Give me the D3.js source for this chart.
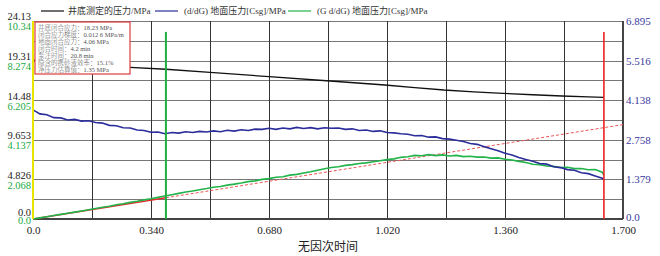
<!DOCTYPE html>
<html>
<head>
<meta charset="utf-8">
<script src="https://cdn.jsdelivr.net/npm/d3@7"></script>
<style>
  body { margin: 0; background: #fff; }
  text { font-family: "Liberation Serif", "Noto Sans CJK SC", serif; }
</style>
</head>
<body>
<svg id="chart"></svg>
<script>
// data
const timeTicks = [0, 0.34, 0.68, 1.02, 1.36, 1.7];
const timeLabels = ["0.0", "0.340", "0.680", "1.020", "1.360", "1.700"];
const timeGrid = [0, 0.17, 0.34, 0.51, 0.68, 0.85, 1.02, 1.19, 1.36, 1.53, 1.7];

const leftTicks = [0, 4.826, 9.653, 14.48, 19.31, 24.13];
const leftLabels = ["0.0", "4.826", "9.653", "14.48", "19.31", "24.13"];
const greenTicks = [0, 2.068, 4.137, 6.205, 8.274, 10.34];
const greenLabels = ["0.0", "2.068", "4.137", "6.205", "8.274", "10.34"];
const rightTicks = [0, 1.379, 2.758, 4.138, 5.516, 6.895];
const rightLabels = ["0.0", "1.379", "2.758", "4.138", "5.516", "6.895"];

const legendNames = ["井底测定的压力/MPa", "(d/dG) 地面压力[Csg]/MPa", "(G d/dG) 地面压力[Csg]/MPa"];

const infoLines = [
    "井底闭合应力：18.23 MPa",
    "闭合应力梯度：0.012 6 MPa/m",
    "地面闭合应力：4.06 MPa",
    "闭合时间：4.2 min",
    "泵注时间：20.8 min",
    "隐含的携砂液效率：15.1%",
    "净压力估算值：1.35 MPa"
];

// bottom-hole pressure (left black axis)
const bhTime = [0, 0.1, 0.2, 0.28, 0.383, 0.51, 0.68, 0.856, 1.014, 1.1, 1.184, 1.27, 1.354, 1.44, 1.524, 1.6, 1.645];
const bhPressure = [19.35, 19.05, 18.74, 18.49, 18.25, 17.87, 17.35, 16.82, 16.33, 16.02, 15.72, 15.50, 15.32, 15.14, 14.99, 14.88, 14.83];

// sampled time for derivative curves
const sampleTime = [0.00, 0.02, 0.04, 0.06, 0.08, 0.10, 0.12, 0.14, 0.16, 0.18,
    0.20, 0.22, 0.24, 0.26, 0.28, 0.30, 0.32, 0.34, 0.36, 0.38,
    0.40, 0.42, 0.44, 0.46, 0.48, 0.50, 0.52, 0.54, 0.56, 0.58,
    0.60, 0.62, 0.64, 0.66, 0.68, 0.70, 0.72, 0.74, 0.76, 0.78,
    0.80, 0.82, 0.84, 0.86, 0.88, 0.90, 0.92, 0.94, 0.96, 0.98,
    1.00, 1.02, 1.04, 1.06, 1.08, 1.10, 1.12, 1.14, 1.16, 1.18,
    1.20, 1.22, 1.24, 1.26, 1.28, 1.30, 1.32, 1.34, 1.36, 1.38,
    1.40, 1.42, 1.44, 1.46, 1.48, 1.50, 1.52, 1.54, 1.56, 1.58,
    1.60, 1.62, 1.64, 1.645];

// (d/dG) surface pressure (right blue axis)
const dPressure = [3.80, 3.66, 3.63, 3.53, 3.52, 3.45, 3.47, 3.41, 3.42, 3.36,
    3.34, 3.26, 3.25, 3.18, 3.17, 3.10, 3.08, 3.02, 3.03, 2.97,
    3.01, 2.99, 3.04, 3.01, 3.05, 3.03, 3.07, 3.04, 3.09, 3.06,
    3.11, 3.08, 3.13, 3.12, 3.16, 3.12, 3.17, 3.14, 3.19, 3.15,
    3.18, 3.14, 3.18, 3.16, 3.17, 3.12, 3.14, 3.08, 3.10, 3.05,
    3.07, 3.01, 3.00, 2.97, 2.95, 2.90, 2.91, 2.85, 2.86, 2.80,
    2.78, 2.74, 2.70, 2.63, 2.60, 2.52, 2.45, 2.38, 2.29, 2.23,
    2.14, 2.07, 2.01, 1.93, 1.91, 1.82, 1.79, 1.72, 1.70, 1.61,
    1.58, 1.50, 1.42, 1.36];

// (G d/dG) surface pressure (left green axis)
const gdPressure = [0.00, 0.06, 0.12, 0.18, 0.24, 0.30, 0.36, 0.42, 0.48, 0.55,
    0.61, 0.67, 0.74, 0.80, 0.87, 0.93, 1.00, 1.06, 1.13, 1.20,
    1.27, 1.34, 1.41, 1.46, 1.53, 1.59, 1.66, 1.70, 1.77, 1.82,
    1.88, 1.95, 1.99, 2.07, 2.11, 2.18, 2.21, 2.29, 2.33, 2.40,
    2.47, 2.55, 2.62, 2.69, 2.73, 2.80, 2.84, 2.90, 2.93, 2.99,
    3.04, 3.10, 3.14, 3.22, 3.25, 3.32, 3.30, 3.36, 3.31, 3.35,
    3.29, 3.32, 3.26, 3.28, 3.23, 3.24, 3.18, 3.19, 3.12, 3.08,
    3.01, 2.95, 2.86, 2.84, 2.77, 2.75, 2.69, 2.70, 2.63, 2.64,
    2.57, 2.58, 2.44, 2.30];

// tangent line through origin (green axis units)
const tangentTime = [0, 0.383, 1.7];
const tangentValue = [0, 1.11, 4.93];

// closure / end-of-data markers
const closureTime = 0.383;
const endTime = 1.645;
const markerTopValue = 22.8;

//margins
const margin = { top: 21, right: 37, bottom: 37, left: 33 };
const width = 660 - margin.left - margin.right;
const height = 256 - margin.top - margin.bottom;

const svg = d3.select("#chart")
    .attr("width", 660)
    .attr("height", 256);

const g = svg.append("g")
    .attr("transform", `translate(${margin.left}, ${margin.top})`);

// scales
const xScale = d3.scaleLinear().domain([0, 1.7]).range([0, width]);
const yLeft = d3.scaleLinear().domain([0, 24.13]).range([height, 0]);
const yGreen = d3.scaleLinear().domain([0, 10.34]).range([height, 0]);
const yRight = d3.scaleLinear().domain([0, 6.895]).range([height, 0]);

// horizontal grid (major + halfway lines)
const hGrid = [];
leftTicks.forEach((v, i) => {
    hGrid.push(v);
    if (i < leftTicks.length - 1) hGrid.push((v + leftTicks[i + 1]) / 2);
});
g.append("g").selectAll("line")
    .data(hGrid)
    .enter().append("line")
    .attr("x1", 0).attr("x2", width)
    .attr("y1", d => Math.round(yLeft(d)) + 0.5).attr("y2", d => Math.round(yLeft(d)) + 0.5)
    .attr("stroke", "#777").attr("stroke-width", 1);

// vertical grid
g.append("g").selectAll("line")
    .data(timeGrid)
    .enter().append("line")
    .attr("x1", d => Math.round(xScale(d)) + 0.5).attr("x2", d => Math.round(xScale(d)) + 0.5)
    .attr("y1", 0).attr("y2", height)
    .attr("stroke", "#333").attr("stroke-width", 1);

// frame
g.append("line").attr("x1", width).attr("x2", width).attr("y1", 0).attr("y2", height)
    .attr("stroke", "#444").attr("stroke-width", 2);
g.append("line").attr("x1", 0).attr("x2", width).attr("y1", height).attr("y2", height)
    .attr("stroke", "#444").attr("stroke-width", 2);

// curves
const bhLine = d3.line()
    .x((d, i) => xScale(bhTime[i]))
    .y(d => yLeft(d));
const dLine = d3.line()
    .x((d, i) => xScale(sampleTime[i]))
    .y(d => yRight(d));
const gdLine = d3.line()
    .x((d, i) => xScale(sampleTime[i]))
    .y(d => yGreen(d));

// tangent: solid to closure, dashed after
g.append("path")
    .datum([0, 1])
    .attr("d", d3.line().x(i => xScale(tangentTime[i])).y(i => yGreen(tangentValue[i])))
    .attr("fill", "none").attr("stroke", "#e82a2a").attr("stroke-width", 1.5);
g.append("path")
    .datum([1, 2])
    .attr("d", d3.line().x(i => xScale(tangentTime[i])).y(i => yGreen(tangentValue[i])))
    .attr("fill", "none").attr("stroke", "#ee5555").attr("stroke-width", 1)
    .attr("stroke-dasharray", "3,2");

g.append("path").datum(bhPressure).attr("d", bhLine)
    .attr("fill", "none").attr("stroke", "#111").attr("stroke-width", 1.3);
g.append("path").datum(gdPressure).attr("d", gdLine)
    .attr("fill", "none").attr("stroke", "#22b34a").attr("stroke-width", 1.6);
g.append("path").datum(dPressure).attr("d", dLine)
    .attr("fill", "none").attr("stroke", "#2b2d9a").attr("stroke-width", 1.6);

// markers
g.append("line")
    .attr("x1", xScale(closureTime)).attr("x2", xScale(closureTime))
    .attr("y1", yLeft(markerTopValue)).attr("y2", height)
    .attr("stroke", "#1fae3f").attr("stroke-width", 2);
g.append("line")
    .attr("x1", xScale(endTime)).attr("x2", xScale(endTime))
    .attr("y1", yLeft(markerTopValue)).attr("y2", height)
    .attr("stroke", "#ee2222").attr("stroke-width", 1.6);

// yellow left axis line
g.append("line").attr("x1", 0).attr("x2", 0).attr("y1", 0).attr("y2", height)
    .attr("stroke", "#e8e400").attr("stroke-width", 2);

// axes
const leftAxis = g.append("g")
    .call(d3.axisLeft(yLeft).tickValues(leftTicks).tickFormat((d, i) => leftLabels[i]).tickSize(0).tickPadding(2));
leftAxis.selectAll("text").attr("dy", (d, i) => i === 0 ? "-0.3em" : "-0.1em")
    .style("font-size", "10.5px").attr("fill", "#222");

const greenAxis = g.append("g")
    .call(d3.axisLeft(yGreen).tickValues(greenTicks).tickFormat((d, i) => greenLabels[i]).tickSize(0).tickPadding(2));
greenAxis.selectAll("text").attr("dy", (d, i) => i === 0 ? "0.45em" : "0.85em")
    .style("font-size", "10.5px").attr("fill", "#22aa44");

const rightAxis = g.append("g")
    .attr("transform", `translate(${width}, 0)`)
    .call(d3.axisRight(yRight).tickValues(rightTicks).tickFormat((d, i) => rightLabels[i]).tickSize(0).tickPadding(3));
rightAxis.selectAll("text").attr("dy", (d, i) => i === 0 ? "0.15em" : "0.32em")
    .style("font-size", "11px").attr("fill", "#3a3a9e");

const bottomAxis = g.append("g")
    .attr("transform", `translate(0, ${height})`)
    .call(d3.axisBottom(xScale).tickValues(timeTicks).tickFormat((d, i) => timeLabels[i]).tickSize(0).tickPadding(7));
bottomAxis.selectAll("text").style("font-size", "11px").attr("fill", "#222");

[leftAxis, greenAxis, rightAxis, bottomAxis].forEach(a => a.select(".domain").remove());

// x title
svg.append("text")
    .attr("x", margin.left + width / 2)
    .attr("y", 251)
    .attr("text-anchor", "middle")
    .style("font-size", "12px")
    .attr("fill", "#222")
    .text("无因次时间");

// legend
const legendColors = ["#111", "#2b2d9a", "#22b34a"];
const legendX = [41, 155, 288];
const legendG = svg.append("g").attr("transform", "translate(0, 11)");
const legendItems = legendG.selectAll(".legend-item")
    .data(legendNames)
    .enter().append("g")
    .attr("class", "legend-item")
    .attr("transform", (d, i) => `translate(${legendX[i]}, 0)`);
legendItems.append("line")
    .attr("x1", 0).attr("x2", 23)
    .attr("stroke", (d, i) => legendColors[i]).attr("stroke-width", 1.2);
legendItems.append("text")
    .attr("x", (d, i) => i === 0 ? 27 : 29)
    .attr("dy", "0.35em")
    .style("font-size", "9px")
    .attr("fill", "#333")
    .text(d => d);

// info box
const box = g.append("g").attr("transform", "translate(2, 1)");
box.append("rect")
    .attr("width", 95).attr("height", 52)
    .attr("fill", "#fff")
    .attr("stroke", "#e03a3a").attr("stroke-width", 1.2);
// small text drawn at double size and scaled down
const boxText = box.append("g").attr("transform", "scale(0.5)");
boxText.selectAll("text")
    .data(infoLines)
    .enter().append("text")
    .attr("x", 6)
    .attr("y", (d, i) => 12 + i * 13.8)
    .attr("dy", "0.35em")
    .style("font-size", "13px")
    .style("font-weight", "300")
    .attr("fill", "#555")
    .text(d => d);
</script>
</body>
</html>
